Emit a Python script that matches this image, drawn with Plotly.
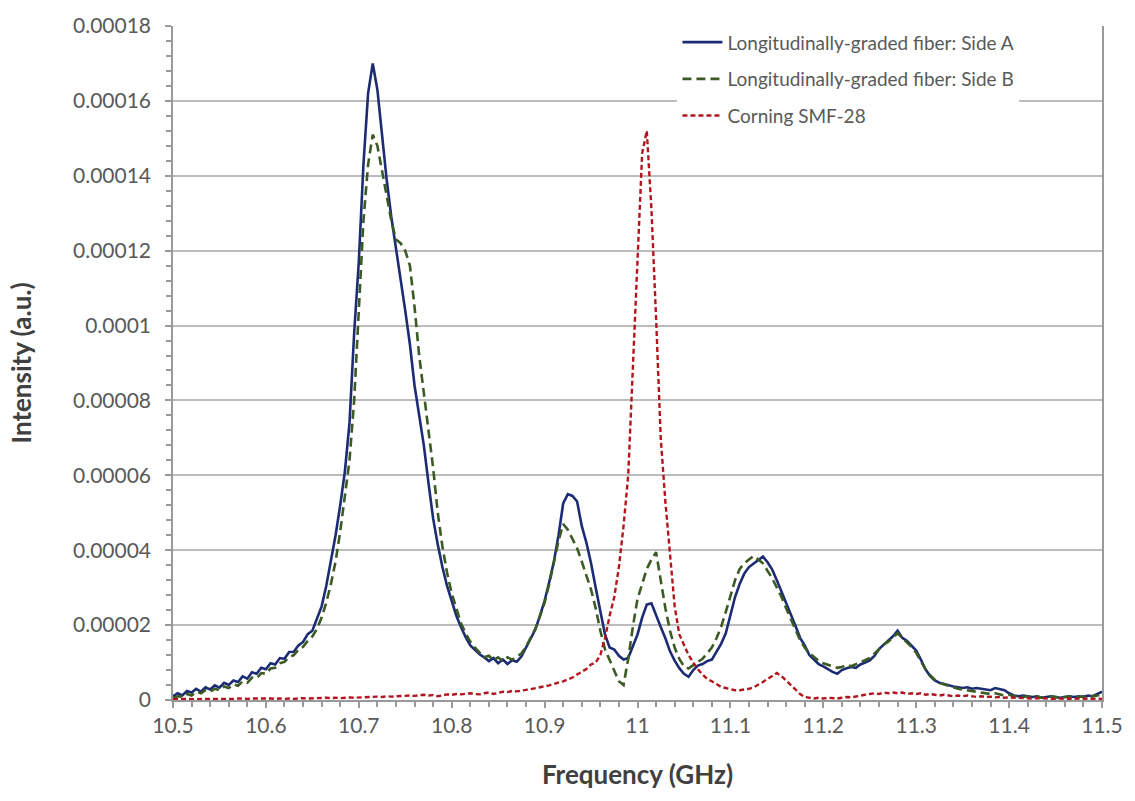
import plotly.graph_objects as go

# Frequency grid (GHz), 5 MHz steps from 10.5 to 11.5
freq_ghz = [round(10.5 + 0.005 * i, 3) for i in range(201)]

# Intensities in micro-units (a.u. x 1e-6), one row per 50 MHz
side_a = [
    1.0, 1.8, 1.2, 2.4, 2.0, 3.0, 2.2, 3.4, 2.8, 3.9,
    3.3, 4.6, 4.0, 5.2, 4.8, 6.3, 5.7, 7.4, 7.0, 8.6,
    8.2, 9.8, 9.5, 11.2, 11.0, 12.8, 12.9, 14.6, 15.5, 17.6,
    18.5, 21.5, 25.0, 30.5, 37.0, 44.0, 52.0, 61.0, 74.0, 98.0,
    117.0, 143.0, 162.0, 170.0, 163.0, 150.0, 139.0, 129.0, 121.0, 112.0,
    104.0, 95.0, 84.0, 76.0, 68.0, 58.0, 48.5, 41.5, 35.5, 30.5,
    26.5, 22.5, 19.5, 16.8, 14.6, 13.4, 12.2, 11.4, 10.4, 11.2,
    9.8, 10.8, 9.6, 10.6, 10.2, 11.6, 14.0, 16.2, 18.8, 22.5,
    26.5, 31.5, 37.0, 44.0, 52.5, 55.0, 54.5, 53.0, 46.5, 42.0,
    36.5, 30.0, 23.5, 17.5, 14.0, 13.5, 11.8, 10.8, 11.2, 14.5,
    17.5, 22.0, 25.5, 25.8, 22.5, 19.5, 16.5, 13.0, 10.5, 8.5,
    7.0, 6.2, 8.0, 9.2, 9.6, 10.4, 10.8, 12.8, 15.0, 17.8,
    22.5, 27.5, 31.0, 33.8, 35.5, 36.4, 37.4, 38.3, 36.8, 34.8,
    32.0, 29.0, 26.2, 23.2, 19.8, 16.6, 14.6, 12.0, 10.8, 9.6,
    9.0, 8.2, 7.5, 7.0, 8.0, 8.5, 8.8, 8.6, 9.5, 10.0,
    10.6, 11.8, 13.6, 14.8, 15.8, 17.0, 18.5, 16.6, 15.8, 14.6,
    13.2, 10.8, 8.2, 6.4, 5.2, 4.6, 4.2, 3.8, 3.6, 3.4,
    3.2, 3.4, 3.0, 3.2, 3.0, 2.8, 2.6, 3.2, 3.0, 2.6,
    1.8, 1.2, 1.0, 1.2, 1.0, 0.8, 1.0, 0.6, 0.8, 1.0,
    0.8, 0.6, 0.8, 1.0, 0.8, 1.0, 0.8, 1.2, 1.0, 1.6,
    2.2,
]

side_b = [
    0.6, 1.0, 0.8, 1.6, 1.2, 2.2, 1.8, 2.6, 2.2, 3.0,
    2.6, 3.6, 3.2, 4.2, 3.8, 5.0, 4.6, 6.0, 5.8, 7.2,
    7.0, 8.4, 8.6, 9.8, 10.2, 11.4, 12.0, 13.4, 14.2, 15.8,
    17.0, 19.0, 22.0, 26.0, 31.0, 37.0, 45.0, 54.0, 64.0, 80.0,
    106.0, 128.0, 143.0, 151.0, 148.0, 141.0, 135.0, 128.0, 123.0, 122.0,
    120.0, 116.0, 105.0, 92.0, 82.0, 72.0, 62.0, 50.0, 41.0, 34.0,
    28.5, 24.5, 20.5, 17.8, 15.6, 14.0, 12.6, 11.4, 11.8, 10.6,
    11.4, 10.4, 11.4, 10.8, 11.6, 12.4, 14.2, 16.4, 19.0, 22.4,
    26.0, 31.0, 37.0, 42.5, 47.0, 45.5, 43.0, 40.5, 37.0, 33.5,
    29.5, 24.5, 18.5, 13.5, 10.5, 7.5, 5.0, 4.0, 11.0, 19.5,
    27.0, 31.0, 35.0, 37.5, 39.5, 32.0, 24.5, 18.5, 14.0, 11.0,
    9.0, 8.4, 9.4, 10.2, 11.0, 12.5, 14.0, 16.5, 19.5, 23.5,
    28.0, 32.0, 35.0, 36.5, 37.5, 38.5, 37.5, 36.5, 34.5, 32.5,
    30.0, 27.5, 24.5, 21.5, 18.5, 16.0, 14.0, 12.5, 11.5, 10.5,
    9.8, 9.4, 8.8, 8.6, 8.8, 9.4, 9.0, 9.6, 10.2, 10.6,
    11.2, 12.4, 13.6, 14.8, 15.6, 16.6, 17.8, 16.6, 15.4, 14.2,
    12.6, 10.4, 8.2, 6.6, 5.4, 4.6, 4.2, 3.6, 3.4, 3.0,
    2.8, 2.6, 2.4, 2.2, 2.0, 1.8, 1.6, 1.8, 1.4, 1.2,
    1.4, 1.0, 1.2, 0.8, 1.0, 0.8, 1.0, 0.6, 0.8, 1.0,
    0.8, 0.6, 0.8, 1.0, 0.6, 0.8, 1.0, 0.8, 1.0, 1.2,
    1.6,
]

smf28 = [
    0.2, 0.3, 0.2, 0.3, 0.2, 0.3, 0.2, 0.3, 0.3, 0.2,
    0.3, 0.3, 0.2, 0.3, 0.4, 0.3, 0.3, 0.4, 0.4, 0.5,
    0.6, 0.4, 0.3, 0.4, 0.3, 0.4, 0.3, 0.4, 0.5, 0.4,
    0.5, 0.4, 0.5, 0.6, 0.5, 0.6, 0.5, 0.6, 0.7, 0.6,
    0.7, 0.8, 0.7, 0.8, 0.9, 0.8, 1.0, 0.9, 1.0, 1.1,
    1.0, 1.2, 1.1, 1.2, 1.4, 1.2, 1.3, 1.0, 1.3, 1.5,
    1.4, 1.6, 1.5, 1.7, 1.8, 1.6, 1.5, 1.8, 2.0, 1.6,
    2.0, 2.2, 2.1, 2.4, 2.3, 2.6, 2.7, 2.9, 3.1, 3.4,
    3.6, 3.9, 4.3, 4.6, 5.0, 5.5, 6.0, 6.8, 7.5, 8.3,
    9.5, 10.0, 12.0, 16.5, 22.5, 27.5, 35.5, 46.5, 60.0, 88.0,
    118.0, 146.0, 152.0, 131.0, 102.0, 70.0, 53.0, 40.0, 25.0, 17.5,
    14.5, 12.0, 10.0, 8.2, 6.8, 5.6, 5.0, 4.2, 3.5, 3.2,
    2.8, 2.6, 2.6, 2.8, 3.0, 3.4, 4.0, 4.8, 5.6, 6.4,
    7.2, 6.4, 5.2, 3.8, 2.6, 1.6, 0.8, 0.6, 0.4, 0.6,
    0.4, 0.6, 0.5, 0.4, 0.6, 0.8, 0.7, 1.0, 1.2, 1.4,
    1.6, 1.8, 1.6, 2.0, 1.8, 2.0, 1.8, 2.0, 1.6, 1.8,
    1.6, 1.8, 1.4, 1.6, 1.4, 1.2, 1.4, 1.2, 1.0, 1.2,
    1.0, 1.2, 1.0, 0.8, 1.0, 0.8, 0.9, 0.7, 0.8, 0.6,
    0.7, 0.6, 0.5, 0.6, 0.5, 0.4, 0.5, 0.4, 0.5, 0.4,
    0.3, 0.4, 0.3, 0.4, 0.3, 0.4, 0.3, 0.4, 0.3, 0.4,
    0.3,
]

series_names = [
    "Longitudinally-graded fiber: Side A",
    "Longitudinally-graded fiber: Side B",
    "Corning SMF-28",
]

x_tick_vals = [10.5, 10.6, 10.7, 10.8, 10.9, 11.0, 11.1, 11.2, 11.3, 11.4, 11.5]
x_tick_text = ["10.5", "10.6", "10.7", "10.8", "10.9", "11", "11.1", "11.2", "11.3", "11.4", "11.5"]
y_tick_vals = [0, 0.00002, 0.00004, 0.00006, 0.00008, 0.0001, 0.00012, 0.00014, 0.00016, 0.00018]
y_tick_text = ["0", "0.00002", "0.00004", "0.00006", "0.00008", "0.0001",
               "0.00012", "0.00014", "0.00016", "0.00018"]

MICRO = 1e-6
FONT = "Lato, 'Open Sans', sans-serif"
TEXT_GREY = "#595959"
GRID_GREY = "#bcbcbc"
AXIS_GREY = "#9a9a9a"

fig = go.Figure()
styles = [
    dict(color="#1c2c74", width=2.6),
    dict(color="#3c5a24", width=2.6, dash="9px,5px"),
    dict(color="#b3151c", width=2.4, dash="5px,3px"),
]
for name, values, style in zip(series_names, [side_a, side_b, smf28], styles):
    fig.add_trace(go.Scatter(
        x=freq_ghz,
        y=[v * MICRO for v in values],
        mode="lines",
        name=name,
        legendgroup=name,
        line=style,
    ))

fig.update_layout(
    width=1135,
    height=801,
    margin=dict(l=173, r=31, t=18, b=101),
    paper_bgcolor="white",
    plot_bgcolor="white",
    font=dict(family=FONT, color=TEXT_GREY),
    legend=dict(
        x=0.543, y=1.004, xanchor="left", yanchor="top",
        bgcolor="white",
        font=dict(family=FONT, size=19, color=TEXT_GREY),
        itemwidth=40,
        entrywidth=375,
        tracegroupgap=9,
    ),
    showlegend=True,
)

fig.update_xaxes(
    range=[10.5, 11.5],
    tickvals=x_tick_vals,
    ticktext=x_tick_text,
    tickfont=dict(family=FONT, size=21, color=TEXT_GREY),
    ticks="outside", ticklen=6, tickcolor=AXIS_GREY, tickwidth=1.5,
    minor=dict(dtick=0.02, ticks="outside", ticklen=5, tickcolor=AXIS_GREY, tickwidth=1.5, showgrid=False),
    showline=True, linecolor=AXIS_GREY, linewidth=1.5,
    showgrid=False, zeroline=False,
    title=dict(text="<b>Frequency (GHz)</b>", font=dict(family=FONT, size=26, color="#404040"), standoff=30),
)

fig.update_yaxes(
    range=[0, 0.00018],
    tickvals=y_tick_vals,
    ticktext=y_tick_text,
    tickfont=dict(family=FONT, size=21, color=TEXT_GREY),
    ticks="outside", ticklen=6, tickcolor=AXIS_GREY, tickwidth=1.5,
    minor=dict(dtick=0.000004, ticks="outside", ticklen=5, tickcolor=AXIS_GREY, tickwidth=1.5, showgrid=False),
    ticklabelstandoff=10,
    showline=True, mirror=True, linecolor=AXIS_GREY, linewidth=1.5,
    showgrid=True, gridcolor=GRID_GREY, gridwidth=2,
    zeroline=False,
    title=dict(text="<b>Intensity (a.u.)</b>", font=dict(family=FONT, size=26, color="#404040"), standoff=34),
)

fig.write_html("out.html")
